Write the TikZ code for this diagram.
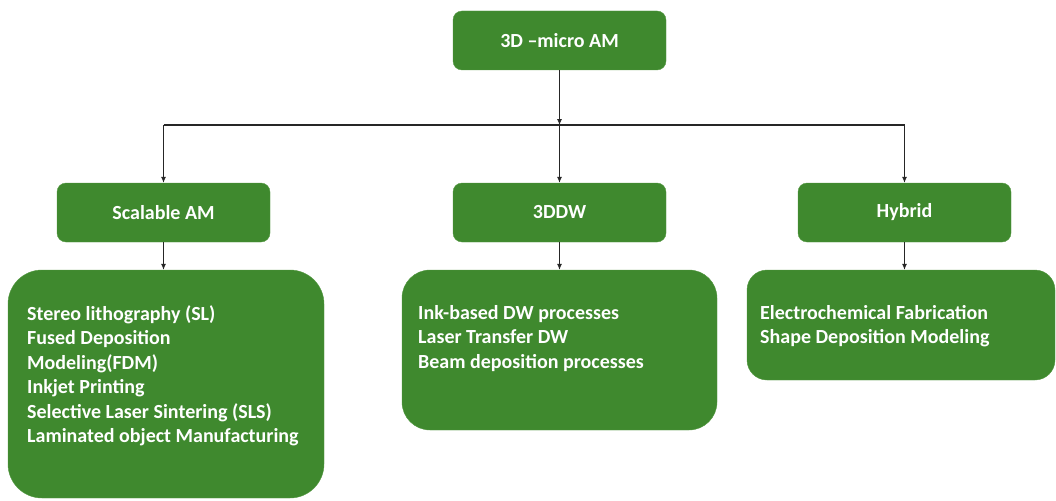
\documentclass[tikz,border=0pt]{standalone}
\usepackage{fontspec}
\setmainfont{Carlito}
\usetikzlibrary{arrows.meta}
\definecolor{boxgreen}{RGB}{63,137,46}
\definecolor{boxedge}{RGB}{84,152,66}
\begin{document}
\begin{tikzpicture}[x=1pt,y=-1pt]
  \useasboundingbox (0,0) rectangle (1056,500);
  \begin{scope}[every node/.style={draw=boxedge,fill=boxgreen,rounded corners=9pt,minimum width=213pt,minimum height=59pt,inner sep=0pt,text=white,font=\bfseries\fontsize{20}{24}\selectfont}]
  \node (am) at (559.5,40.5) {3D –micro AM};
  \node (sam) at (163.5,212.5) {Scalable AM};
  \node (ddw) at (559.5,212.5) {3DDW};
  \node (hyb) at (904.5,212.5) {Hybrid};
  \end{scope}
  \begin{scope}[every node/.style={draw=boxedge,fill=boxgreen,inner sep=0pt}]
  \node[minimum width=316pt,minimum height=228pt,rounded corners=34pt] (samlist) at (166,384) {};
  \node[minimum width=315pt,minimum height=160pt,rounded corners=28pt] (ddwlist) at (559.5,350) {};
  \node[minimum width=308pt,minimum height=110pt,rounded corners=20pt] (hyblist) at (901,325) {};
  \end{scope}
  \begin{scope}[every node/.style={anchor=north west,align=left,inner sep=0pt,text=white,font=\bfseries\fontsize{20}{24.5}\selectfont}]
  \node (samtext) at (27,305) {Stereo lithography (SL)\\Fused Deposition\\Modeling(FDM)\\Inkjet Printing\\Selective Laser Sintering (SLS)\\Laminated object Manufacturing};
  \node (ddwtext) at (418,305) {Ink-based DW processes\\Laser Transfer DW\\Beam deposition processes};
  \node (hybtext) at (760,305) {Electrochemical Fabrication\\Shape Deposition Modeling};
  \end{scope}
  \coordinate (jsam) at (163.5,125);
  \coordinate (jddw) at (559.5,125);
  \coordinate (jhyb) at (904.5,125);
  \draw[line width=1.6pt,black!85] (jsam) -- (jhyb);
  \begin{scope}[every edge/.style={draw=black!85,line width=0.8pt,-{Latex[length=6pt,width=5pt]}}]
  \path (am) edge (jddw);
  \path (jsam) edge (sam);
  \path (jddw) edge (ddw);
  \path (jhyb) edge (hyb);
  \path (sam) edge (sam |- samlist.north);
  \path (ddw) edge (ddw |- ddwlist.north);
  \path (hyb) edge (hyb |- hyblist.north);
  \end{scope}
\end{tikzpicture}
\end{document}
